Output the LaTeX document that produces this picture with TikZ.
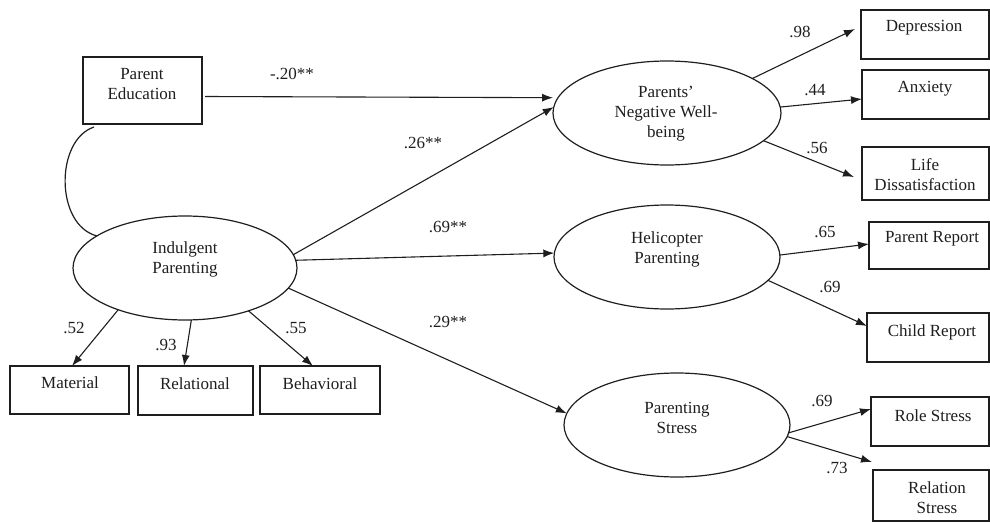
\documentclass[tikz,border=0pt]{standalone}
\usepackage{fontspec}
\setmainfont{Liberation Serif}
\usetikzlibrary{arrows.meta,shapes.geometric}
\definecolor{ink}{HTML}{1E1E1E}
\tikzset{
  box/.style={draw=ink, line width=1.2pt, inner sep=0pt, outer sep=0pt},
  lat/.style={draw=ink, line width=1.2pt, ellipse, inner sep=0pt, outer sep=0pt},
  txt/.style={text=ink, inner sep=0pt, align=center, font=\fontsize{17}{20}\selectfont},
  lbl/.style={text=ink, inner sep=0pt, font=\fontsize{17}{20}\selectfont},
  arr/.style={draw=ink, line width=1.1pt, -{Latex[length=11pt,width=8pt]}},
  cov/.style={draw=ink, line width=1.2pt},
}
\begin{document}
\begin{tikzpicture}[x=1pt,y=-1pt]
\useasboundingbox (0,0) rectangle (990,522);
% boxes
\node[box, minimum width=119pt, minimum height=67pt] (pe) at (142.5,90.5) {};
\node[box, minimum width=119pt, minimum height=48pt] (mat) at (69.5,390) {};
\node[box, minimum width=115pt, minimum height=49pt] (rel) at (195.5,390.5) {};
\node[box, minimum width=120pt, minimum height=48pt] (beh) at (320,390) {};
\node[box, minimum width=128pt, minimum height=49pt] (dep) at (925,34.5) {};
\node[box, minimum width=127pt, minimum height=49pt] (anx) at (925.5,94.5) {};
\node[box, minimum width=127pt, minimum height=53pt] (life) at (925.5,173.5) {};
\node[box, minimum width=120pt, minimum height=47pt] (pr) at (929,245.5) {};
\node[box, minimum width=122pt, minimum height=49pt] (cr) at (928,337.5) {};
\node[box, minimum width=118pt, minimum height=49pt] (role) at (930,421.5) {};
\node[box, minimum width=116pt, minimum height=51pt] (relst) at (931,495.5) {};
% ellipses
\node[lat, minimum width=224pt, minimum height=104pt] (ind) at (185,268) {};
\node[lat, minimum width=228pt, minimum height=104pt] (pnw) at (667,113) {};
\node[lat, minimum width=226pt, minimum height=104pt] (hel) at (667,257) {};
\node[lat, minimum width=226pt, minimum height=104pt] (ps) at (677,425) {};
% texts
\node[txt] (tpe) at (142,84) {Parent\\Education};
\node[txt] (tind) at (185,259) {Indulgent\\Parenting};
\node[txt] (tmat) at (70,383) {Material};
\node[txt] (trel) at (195,384) {Relational};
\node[txt] (tbeh) at (320,384) {Behavioral};
\node[txt] (tpnw) at (666,114) {Parents'\\Negative Well-\\being};
\node[txt] (tdep) at (924,28) {Depression};
\node[txt] (tanx) at (925,89) {Anxiety};
\node[txt] (tlife) at (925,174.5) {Life\\Dissatisfaction};
\node[txt] (thel) at (667,249) {Helicopter\\Parenting};
\node[txt] (tpr) at (932,239) {Parent Report};
\node[txt] (tcr) at (932,332) {Child Report};
\node[txt] (tps) at (677,417.5) {Parenting\\Stress};
\node[txt] (trole) at (933,416) {Role Stress};
\node[txt] (trelst) at (937,498) {Relation\\Stress};
% covariance
\draw[cov] ([shift={(11,3)}]pe.south west) .. controls (55,140) and (55,225) .. (ind.160);
% structural paths
\draw[arr] ([shift={(3,6)}]pe.east) -- ([shift={(-5,0)}]pnw.172);
\draw[arr] (ind.7) -- (pnw.177);
\draw[arr] (ind.4) -- (hel.178);
\draw[arr] (ind.-11) -- (ps.174);
% loadings
\draw[arr] (ind.-148) -- ([shift={(2.5,0)}]mat.north);
\draw[arr] (ind.-83) -- ([shift={(-11.5,0)}]rel.north);
\draw[arr] (ind.-34) -- ([shift={(-7,0)}]beh.north);
\draw[arr] (pnw.22) -- ([shift={(-6,-5.5)}]dep.west);
\draw[arr] (pnw.3) -- ([shift={(0,4.5)}]anx.west);
\draw[arr] (pnw.-16) -- ([shift={(-8,3.5)}]life.west);
\draw[arr] (hel.1) -- ([shift={(0,-1.5)}]pr.west);
\draw[arr] (hel.-13) -- ([shift={(0,-11.5)}]cr.west);
\draw[arr] (ps.-4) -- ([shift={(0,-12.5)}]role.west);
\coordinate (relend) at ([shift={(-1,-8)}]relst.north west);
\draw[arr] (ps.-6.5) -- (relend);
% labels
\node[lbl] (l1) at (292,74) {-.20**};
\node[lbl] (l2) at (423,143) {.26**};
\node[lbl] (l3) at (448,227) {.69**};
\node[lbl] (l4) at (448,322) {.29**};
\node[lbl] (l5) at (74,328) {.52};
\node[lbl] (l6) at (166,345) {.93};
\node[lbl] (l7) at (296,328) {.55};
\node[lbl] (l8) at (800,32) {.98};
\node[lbl] (l9) at (815,90) {.44};
\node[lbl] (l10) at (817,148) {.56};
\node[lbl] (l11) at (825,232) {.65};
\node[lbl] (l12) at (830,287) {.69};
\node[lbl] (l13) at (822,401) {.69};
\node[lbl] (l14) at (837,468) {.73};
\end{tikzpicture}
\end{document}
